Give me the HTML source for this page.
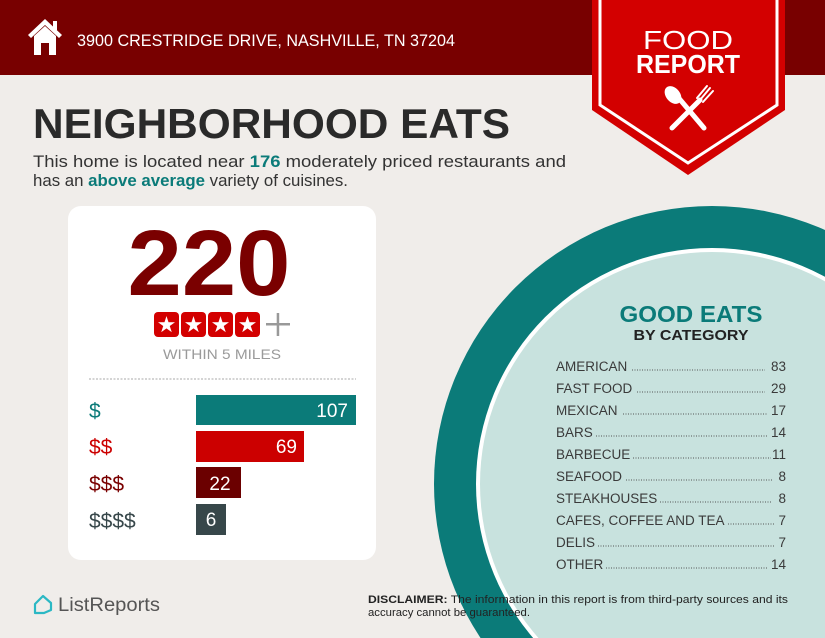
<!DOCTYPE html>
<html><head><meta charset="utf-8"><style>
html,body{margin:0;padding:0;background:#f0edea;overflow:hidden;width:825px;height:638px;}
svg{display:block;font-family:"Liberation Sans",sans-serif;}
</style></head><body>
<svg width="825" height="638" viewBox="0 0 825 638" xmlns="http://www.w3.org/2000/svg">
<rect width="825" height="638" fill="#f0edea"/>
<!-- circle -->
<circle cx="712" cy="484" r="278" fill="#0b7b79"/>
<circle cx="712" cy="484" r="236" fill="#ffffff"/>
<circle cx="712" cy="484" r="232" fill="#c8e2de"/>
<!-- header -->
<rect x="0" y="0" width="825" height="75" fill="#780000"/>
<g fill="#fff">
<polygon points="45,19 28,35 31,38 45,25 59,38 62,35"/>
<rect x="53" y="21" width="4" height="9"/>
<polygon points="34,36 45,26 56,36 56,55 49,55 49,43 41,43 41,55 34,55"/>
</g>
<text x="77" y="46" fill="#fff" font-size="17" textLength="378" lengthAdjust="spacingAndGlyphs">3900 CRESTRIDGE DRIVE, NASHVILLE, TN 37204</text>
<!-- badge -->
<polygon points="592,0 785,0 785,110 688,175 592,110" fill="#d30000"/>
<polyline points="600,0 600,105 688,163 777,105 777,0" fill="none" stroke="#fff" stroke-width="3"/>
<text x="688" y="49" fill="#fff" font-size="26" text-anchor="middle" textLength="90" lengthAdjust="spacingAndGlyphs">FOOD</text>
<text x="688" y="73" fill="#fff" font-size="26" font-weight="bold" text-anchor="middle" textLength="104" lengthAdjust="spacingAndGlyphs">REPORT</text>
<g stroke="#fff" stroke-linecap="round" fill="#fff">
<line x1="677" y1="96" x2="704" y2="128" stroke-width="5"/>
<ellipse cx="673" cy="95" rx="7" ry="10" transform="rotate(-40 673 95)" stroke="none"/>
<line x1="700" y1="100" x2="672" y2="128" stroke-width="5"/>
<line x1="700" y1="100" x2="710" y2="88" stroke-width="2"/>
<line x1="703" y1="102" x2="713" y2="91" stroke-width="2"/>
<line x1="697" y1="98" x2="707" y2="86" stroke-width="2"/>
</g>
<!-- title -->
<text x="33" y="138" fill="#2a2a2a" font-size="42" font-weight="bold" textLength="477" lengthAdjust="spacingAndGlyphs">NEIGHBORHOOD EATS</text>
<text x="33" y="167" fill="#333" font-size="17" textLength="533" lengthAdjust="spacingAndGlyphs">This home is located near <tspan fill="#0b7b79" font-weight="bold">176</tspan> moderately priced restaurants and</text>
<text x="33" y="186" fill="#333" font-size="17" textLength="315" lengthAdjust="spacingAndGlyphs">has an <tspan fill="#0b7b79" font-weight="bold">above average</tspan> variety of cuisines.</text>
<!-- card -->
<rect x="68" y="206" width="308" height="354" rx="13" fill="#fff"/>
<text x="209" y="295" fill="#7a0000" font-size="93" font-weight="bold" text-anchor="middle" textLength="163" lengthAdjust="spacingAndGlyphs">220</text>
<g>
<rect x="154" y="312" width="25" height="25" rx="4" fill="#d30000"/>
<rect x="181" y="312" width="25" height="25" rx="4" fill="#d30000"/>
<rect x="208" y="312" width="25" height="25" rx="4" fill="#d30000"/>
<rect x="235" y="312" width="25" height="25" rx="4" fill="#d30000"/>
<g fill="#fff" font-size="22" text-anchor="middle"><text x="166.5" y="332">★</text><text x="193.5" y="332">★</text><text x="220.5" y="332">★</text><text x="247.5" y="332">★</text></g>
<rect x="266" y="323" width="24" height="2.5" fill="#999"/>
<rect x="276.7" y="313" width="2.5" height="23" fill="#999"/>
</g>
<text x="222" y="359" fill="#9a9a9a" font-size="13.5" text-anchor="middle" textLength="118" lengthAdjust="spacingAndGlyphs">WITHIN 5 MILES</text>
<line x1="89" y1="379" x2="356" y2="379" stroke="#aaa" stroke-width="1" stroke-dasharray="2 1.5"/>
<rect x="196" y="395" width="160" height="30" fill="#0b7b79"/>
<rect x="196" y="431" width="108" height="31" fill="#cc0000"/>
<rect x="196" y="467" width="45" height="31" fill="#6b0000"/>
<rect x="196" y="504" width="30" height="31" fill="#37474a"/>
<g font-size="21">
<text x="89" y="418" fill="#0b7b79">$</text>
<text x="89" y="454" fill="#cc0000">$$</text>
<text x="89" y="491" fill="#7a0000">$$$</text>
<text x="89" y="528" fill="#37474a">$$$$</text>
</g>
<g font-size="19" fill="#fff">
<text x="348" y="417" text-anchor="end">107</text>
<text x="297" y="453" text-anchor="end">69</text>
<text x="220" y="490" text-anchor="middle">22</text>
<text x="211" y="526" text-anchor="middle">6</text>
</g>
<!-- good eats -->
<text x="691" y="322" fill="#0b7b79" font-size="23" font-weight="bold" text-anchor="middle" textLength="143" lengthAdjust="spacingAndGlyphs">GOOD EATS</text>
<text x="691" y="340" fill="#222" font-size="15" font-weight="bold" text-anchor="middle" textLength="115" lengthAdjust="spacingAndGlyphs">BY CATEGORY</text>
<g font-size="13.5" fill="#3a3a3a">
<text x="556" y="371">AMERICAN</text><text x="786" y="371" text-anchor="end">83</text>
<text x="556" y="393">FAST FOOD</text><text x="786" y="393" text-anchor="end">29</text>
<text x="556" y="415">MEXICAN</text><text x="786" y="415" text-anchor="end">17</text>
<text x="556" y="437">BARS</text><text x="786" y="437" text-anchor="end">14</text>
<text x="556" y="459">BARBECUE</text><text x="786" y="459" text-anchor="end">11</text>
<text x="556" y="481">SEAFOOD</text><text x="786" y="481" text-anchor="end">8</text>
<text x="556" y="503">STEAKHOUSES</text><text x="786" y="503" text-anchor="end">8</text>
<text x="556" y="525">CAFES, COFFEE AND TEA</text><text x="786" y="525" text-anchor="end">7</text>
<text x="556" y="547">DELIS</text><text x="786" y="547" text-anchor="end">7</text>
<text x="556" y="569">OTHER</text><text x="786" y="569" text-anchor="end">14</text>
</g>
<g stroke="#555" stroke-width="1" stroke-dasharray="1 1.5">
<line x1="632" y1="370" x2="765" y2="370"/>
<line x1="637" y1="392" x2="765" y2="392"/>
<line x1="623" y1="414" x2="768" y2="414"/>
<line x1="596" y1="436" x2="768" y2="436"/>
<line x1="633" y1="458" x2="771" y2="458"/>
<line x1="626" y1="480" x2="772" y2="480"/>
<line x1="660" y1="502" x2="772" y2="502"/>
<line x1="728" y1="524" x2="774" y2="524"/>
<line x1="598" y1="546" x2="774" y2="546"/>
<line x1="606" y1="568" x2="768" y2="568"/>
</g>
<!-- footer -->
<path d="M35,604 L43,596 L51,603 L51,610 L44,613 L35,613 Z" fill="none" stroke="#2bb8c4" stroke-width="2.2" stroke-linejoin="round"/>
<text x="58" y="611" fill="#555" font-size="19" textLength="102" lengthAdjust="spacingAndGlyphs">ListReports</text>
<text x="368" y="603" fill="#222" font-size="11" textLength="420" lengthAdjust="spacingAndGlyphs"><tspan font-weight="bold">DISCLAIMER:</tspan> The information in this report is from third-party sources and its</text>
<text x="368" y="616" fill="#222" font-size="11" textLength="162" lengthAdjust="spacingAndGlyphs">accuracy cannot be guaranteed.</text>
</svg>
</body></html>
